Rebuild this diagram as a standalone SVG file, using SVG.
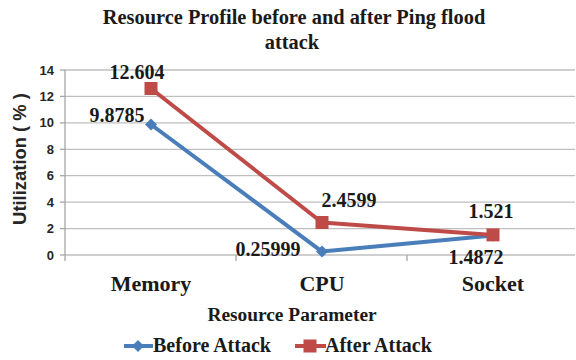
<svg xmlns="http://www.w3.org/2000/svg" width="576" height="360" viewBox="0 0 576 360">
<style>
.grid{stroke:#bfbfbf;stroke-width:1.3}
.axis{stroke:#a6a6a6;stroke-width:1.3}
.tick{font-family:"Liberation Sans",Arial,sans-serif;font-weight:bold;font-size:13px;fill:#262626;text-anchor:end}
.serif{font-family:"Liberation Serif","Times New Roman",serif;font-weight:bold;fill:#1a1a1a}
.lbl{font-size:20px;text-anchor:middle}
.blue{stroke:#4a7ebb;stroke-width:4;fill:none;stroke-linejoin:round}
.red{stroke:#be4b48;stroke-width:4;fill:none;stroke-linejoin:round}
</style>
<defs>
<rect id="sq" x="-6.5" y="-6.5" width="13" height="13" fill="#be4b48"/>
<path id="dm" d="M0,-6 L6,0 L0,6 L-6,0 Z" fill="#4a7ebb"/>
</defs>
<rect width="576" height="360" fill="#ffffff"/>
<g id="title" class="serif" font-size="20.4" text-anchor="middle">
<text x="294" y="24">Resource Profile before and after Ping flood</text>
<text x="292" y="49">attack</text>
</g>
<g id="gridlines">
<line class="grid" x1="65" y1="70" x2="575" y2="70"/>
<line class="grid" x1="65" y1="96.4" x2="575" y2="96.4"/>
<line class="grid" x1="65" y1="122.9" x2="575" y2="122.9"/>
<line class="grid" x1="65" y1="149.3" x2="575" y2="149.3"/>
<line class="grid" x1="65" y1="175.7" x2="575" y2="175.7"/>
<line class="grid" x1="65" y1="202.1" x2="575" y2="202.1"/>
<line class="grid" x1="65" y1="228.6" x2="575" y2="228.6"/>
<line class="grid" x1="65" y1="255" x2="575" y2="255"/>
</g>
<g id="axes">
<line class="axis" x1="65" y1="70" x2="65" y2="261"/>
<line class="axis" x1="60" y1="70" x2="65" y2="70"/>
<line class="axis" x1="60" y1="96.4" x2="65" y2="96.4"/>
<line class="axis" x1="60" y1="122.9" x2="65" y2="122.9"/>
<line class="axis" x1="60" y1="149.3" x2="65" y2="149.3"/>
<line class="axis" x1="60" y1="175.7" x2="65" y2="175.7"/>
<line class="axis" x1="60" y1="202.1" x2="65" y2="202.1"/>
<line class="axis" x1="60" y1="228.6" x2="65" y2="228.6"/>
<line class="axis" x1="60" y1="255" x2="65" y2="255"/>
<line class="axis" x1="236" y1="255" x2="236" y2="261"/>
<line class="axis" x1="407" y1="255" x2="407" y2="261"/>
</g>
<g id="yticks" class="tick">
<text x="54" y="75">14</text>
<text x="54" y="101">12</text>
<text x="54" y="127">10</text>
<text x="54" y="154">8</text>
<text x="54" y="180">6</text>
<text x="54" y="207">4</text>
<text x="54" y="233">2</text>
<text x="54" y="260">0</text>
</g>
<text id="ytitle" transform="translate(26,159) rotate(-90)" font-family="'Liberation Sans',Arial,sans-serif" font-weight="bold" font-size="18.4" fill="#262626" text-anchor="middle">Utilization ( % )</text>
<g id="categories" class="serif" font-size="22" text-anchor="middle">
<text x="151" y="291">Memory</text>
<text x="322" y="291">CPU</text>
<text x="493" y="291">Socket</text>
</g>
<text id="xtitle" class="serif" x="292" y="321" font-size="19.4" text-anchor="middle">Resource Parameter</text>
<g id="connectors">
<polyline id="before-line" class="blue" points="151,124.5 322,251.6 493,235.4"/>
<polyline id="after-line" class="red" points="151,88.5 322,222.5 493,234.9"/>
</g>
<g id="before-markers">
<use href="#dm" x="151" y="124.5"/>
<use href="#dm" x="322" y="251.6"/>
<use href="#dm" x="493" y="235.4"/>
</g>
<g id="after-markers">
<use href="#sq" x="151" y="88.5"/>
<use href="#sq" x="322" y="222.5"/>
<use href="#sq" x="493" y="234.9"/>
</g>
<g id="datalabels" class="serif lbl">
<text x="137" y="79">12.604</text>
<text x="117" y="122">9.8785</text>
<text x="349" y="207">2.4599</text>
<text x="268" y="256">0.25999</text>
<text x="491" y="218">1.521</text>
<text x="476" y="264">1.4872</text>
</g>
<g id="legend">
<line class="blue" x1="124" y1="346" x2="153" y2="346"/>
<use href="#dm" x="138" y="346"/>
<text class="serif" x="153" y="352" font-size="20">Before Attack</text>
<line class="red" x1="295" y1="346" x2="326" y2="346"/>
<use href="#sq" x="310" y="346"/>
<text class="serif" x="325" y="352" font-size="20">After Attack</text>
</g>
</svg>
